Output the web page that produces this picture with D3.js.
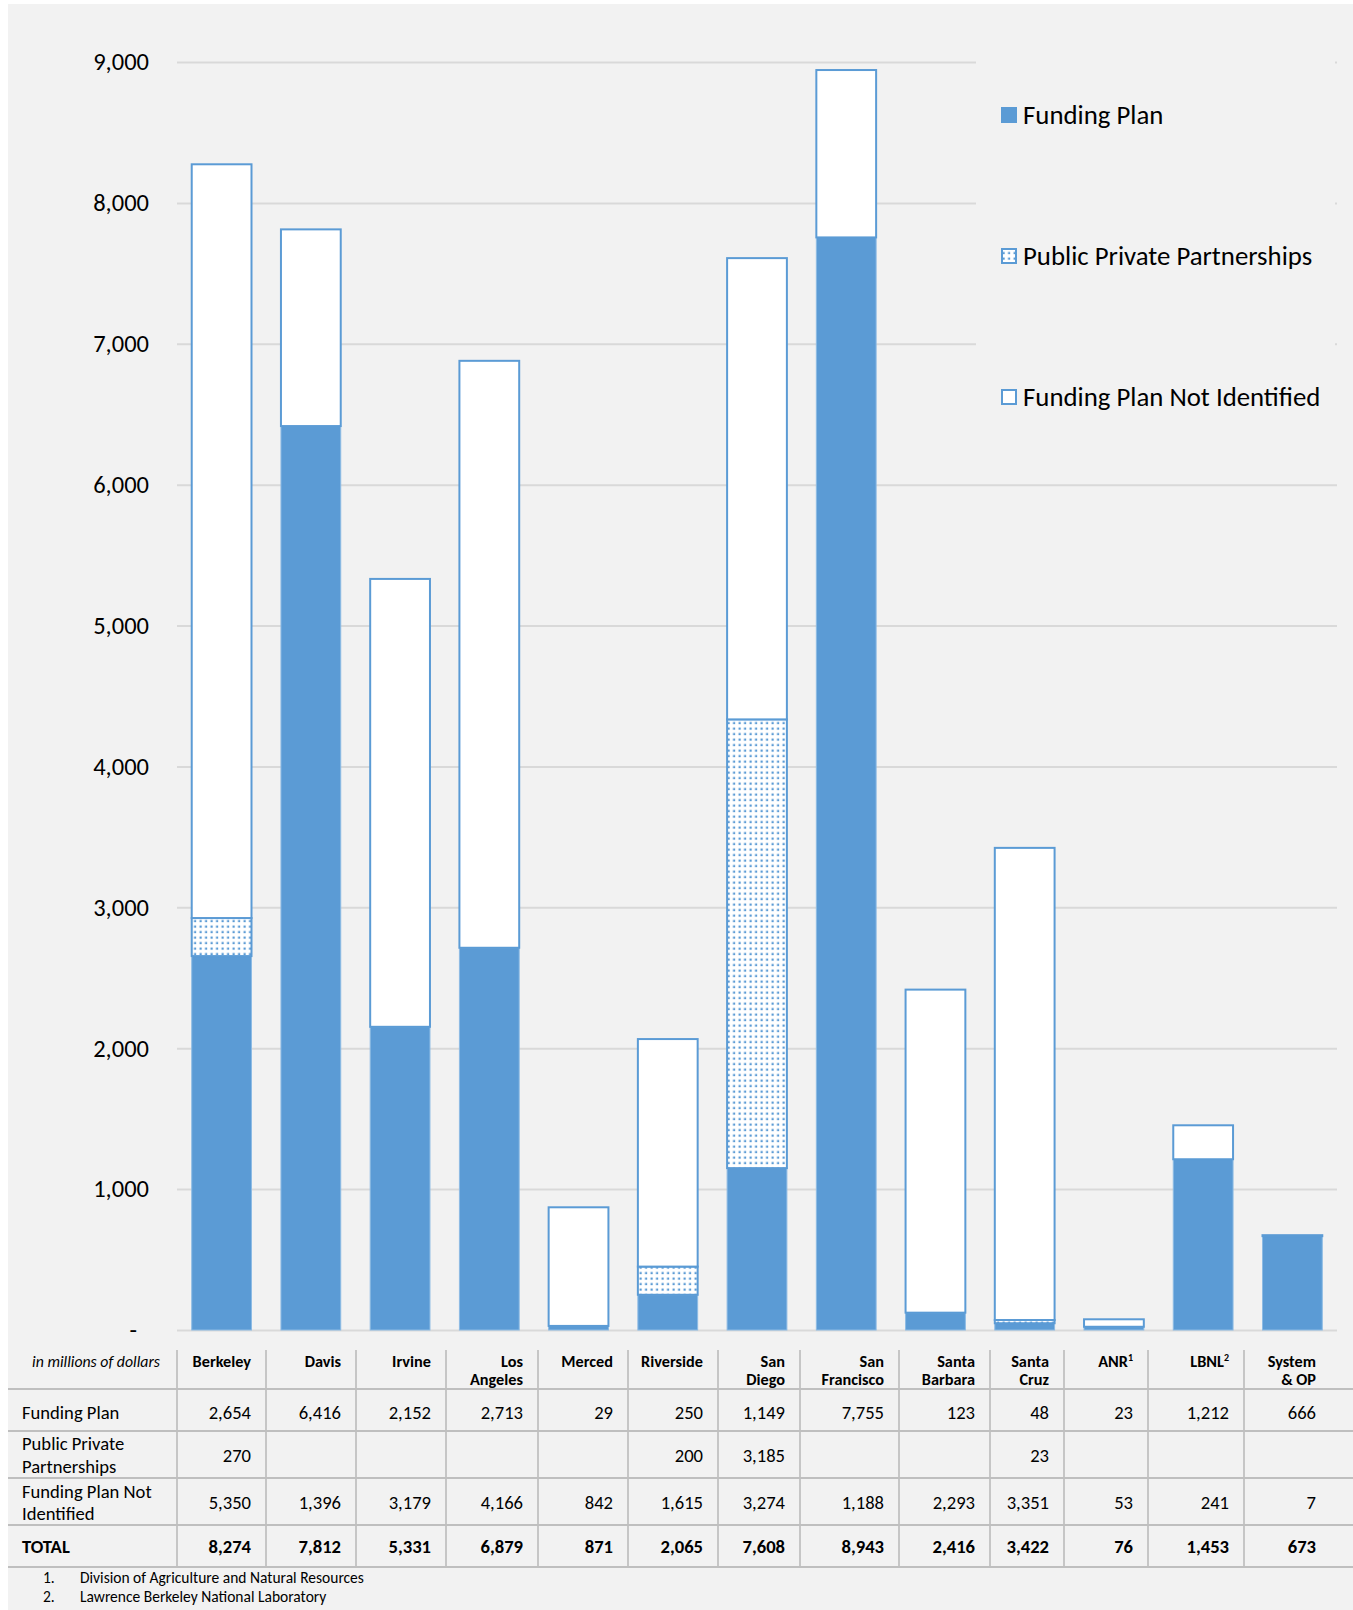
<!DOCTYPE html>
<html>
<head>
<meta charset="utf-8">
<script src="https://cdn.jsdelivr.net/npm/d3@7"></script>
<style>
  body { margin: 0; background: #fff; }
  text { font-family: Calibri, Carlito, Lato, sans-serif; fill: #000; }
</style>
</head>
<body>
<div id="figure"></div>
<script>
// values in millions of dollars
const categories = ['Berkeley', 'Davis', 'Irvine', 'Los Angeles', 'Merced', 'Riverside', 'San Diego',
  'San Francisco', 'Santa Barbara', 'Santa Cruz', 'ANR', 'LBNL', 'System & OP']
const fundingPlan = [2654, 6416, 2152, 2713, 29, 250, 1149, 7755, 123, 48, 23, 1212, 666]
const publicPrivate = [270, 0, 0, 0, 0, 200, 3185, 0, 0, 23, 0, 0, 0]
const notIdentified = [5350, 1396, 3179, 4166, 842, 1615, 3274, 1188, 2293, 3351, 53, 241, 7]
const totals = [8274, 7812, 5331, 6879, 871, 2065, 7608, 8943, 2416, 3422, 76, 1453, 673]
const yTicks = [0, 1000, 2000, 3000, 4000, 5000, 6000, 7000, 8000, 9000]

const seriesKeys = ['fp', 'ppp', 'fpni']
const seriesNames = ['Funding Plan', 'Public Private Partnerships', 'Funding Plan Not Identified']

// table header text, split in lines, plus footnote marks
const headerLines = [['Berkeley'], ['Davis'], ['Irvine'], ['Los', 'Angeles'], ['Merced'], ['Riverside'],
  ['San', 'Diego'], ['San', 'Francisco'], ['Santa', 'Barbara'], ['Santa', 'Cruz'], ['ANR'], ['LBNL'], ['System', '& OP']]
const headerSup = {'ANR': '1', 'LBNL': '2'}
const rowLabels = [['Funding Plan'], ['Public Private', 'Partnerships'], ['Funding Plan Not', 'Identified'], ['TOTAL']]
const footnotes = ['Division of Agriculture and Natural Resources', 'Lawrence Berkeley National Laboratory']

const W = 1353, H = 1610
const blue = '#5b9bd5'

const svg = d3.select('#figure')
  .append('svg')
  .attr('width', W)
  .attr('height', H)

const defs = svg.append('defs')
const pat = defs.append('pattern')
  .attr('id', 'dots')
  .attr('patternUnits', 'userSpaceOnUse')
  .attr('width', 5.5)
  .attr('height', 5.5)
pat.append('rect').attr('width', 5.5).attr('height', 5.5).attr('fill', '#fff')
pat.append('rect').attr('x', 1.5).attr('y', 1.5).attr('width', 2.2).attr('height', 2.2).attr('fill', blue)

svg.append('rect')
  .attr('x', 8).attr('y', 4)
  .attr('width', W - 8).attr('height', H - 4)
  .attr('fill', '#f2f2f2')

// ---- chart ----
const x = d3.scaleBand()
  .domain(categories)
  .range([177, 1337])
  .paddingInner(0.33)
  .paddingOuter(0.165)

const y = d3.scaleLinear()
  .domain([0, 9000])
  .range([1330, 62])

const fmt = d3.format(',')

const yAxis = svg.append('g')
  .attr('transform', 'translate(177,0)')
  .call(d3.axisLeft(y).tickValues(yTicks).tickSize(-1160).tickPadding(28)
    .tickFormat(d => d === 0 ? '-' : fmt(d)))
yAxis.select('.domain').remove()
yAxis.selectAll('line').attr('stroke', '#d9d9d9').attr('stroke-width', 2)
yAxis.selectAll('text')
  .attr('font-size', 24.5)
  .attr('font-family', 'Calibri, Carlito, Lato, sans-serif')
  .attr('fill', '#000')
  .attr('dx', d => d === 0 ? -12 : 0)

const table = categories.map((c, i) => ({
  cat: c, fp: fundingPlan[i], ppp: publicPrivate[i], fpni: notIdentified[i]
}))
const stacked = d3.stack().keys(seriesKeys)(table)

const fills = {fp: blue, ppp: 'url(#dots)', fpni: '#fff'}
const strokes = {fp: '#8dbbe4', ppp: blue, fpni: blue}
const strokeW = {fp: 1, ppp: 2, fpni: 2}

svg.append('g')
  .selectAll('g')
  .data(stacked)
  .enter()
  .append('g')
  .each(function(layer) {
    d3.select(this).selectAll('rect')
      .data(layer.filter(d => d[1] - d[0] > 0))
      .enter()
      .append('rect')
      .attr('x', d => x(d.data.cat))
      .attr('y', d => y(d[1]))
      .attr('width', x.bandwidth())
      .attr('height', d => y(d[0]) - y(d[1]))
      .attr('fill', fills[layer.key])
      .attr('stroke', strokes[layer.key])
      .attr('stroke-width', strokeW[layer.key])
  })

// legend
svg.append('rect')
  .attr('x', 976).attr('y', 45)
  .attr('width', 359).attr('height', 410)
  .attr('fill', '#f2f2f2')

const legendY = [115, 256, 397]
seriesKeys.forEach((k, i) => {
  const g = svg.append('g').attr('transform', `translate(1001, ${legendY[i]})`)
  g.append('rect')
    .attr('x', k === 'fp' ? 0 : 1).attr('y', k === 'fp' ? -8 : -7)
    .attr('width', k === 'fp' ? 16 : 14).attr('height', k === 'fp' ? 16 : 14)
    .attr('fill', fills[k])
    .attr('stroke', k === 'fp' ? 'none' : blue)
    .attr('stroke-width', 2)
  g.append('text')
    .attr('x', 22)
    .attr('dy', '0.35em')
    .attr('font-size', 26.8)
    .text(seriesNames[i])
})

// ---- table ----
const colEdges = [8, 177, 266, 356, 446, 538, 628, 718, 800, 899, 990, 1064, 1148, 1244, 1331]
const rowLines = [1389, 1431, 1478, 1525, 1567]
const rowCenters = [1412, 1455, 1502, 1546]
const rowLineCenters = [[1412], [1443, 1466], [1491, 1513], [1546]]

const tg = svg.append('g')
tg.selectAll('.vline')
  .data(colEdges.slice(1, -1))
  .enter()
  .append('line')
  .attr('x1', d => d).attr('x2', d => d)
  .attr('y1', 1350).attr('y2', 1567)
  .attr('stroke', '#c6c6c6').attr('stroke-width', 2)
tg.selectAll('.hline')
  .data(rowLines)
  .enter()
  .append('line')
  .attr('x1', 8).attr('x2', W)
  .attr('y1', d => d).attr('y2', d => d)
  .attr('stroke', '#bfbfbf').attr('stroke-width', 2)

tg.append('text')
  .attr('x', 160).attr('y', 1361).attr('dy', '0.35em')
  .attr('text-anchor', 'end')
  .attr('font-size', 15.8)
  .attr('font-style', 'italic')
  .text('in millions of dollars')

headerLines.forEach((lines, i) => {
  const t = tg.append('text')
    .attr('text-anchor', 'end')
    .attr('font-size', 16.3)
    .attr('font-weight', 'bold')
  lines.forEach((ln, j) => {
    t.append('tspan')
      .attr('x', colEdges[i + 2] - 15)
      .attr('y', 1361 + j * 18.5)
      .attr('dy', '0.35em')
      .text(ln)
    if (headerSup[ln]) {
      t.append('tspan')
        .attr('font-size', 10)
        .attr('dy', '-0.6em')
        .text(headerSup[ln])
    }
  })
})

rowLabels.forEach((lines, r) => {
  lines.forEach((ln, j) => {
    tg.append('text')
      .attr('x', 22)
      .attr('y', rowLineCenters[r][j])
      .attr('dy', '0.35em')
      .attr('font-size', 18.6)
      .attr('font-weight', r === 3 ? 'bold' : 'normal')
      .text(ln)
  })
})

const rowValues = [fundingPlan, publicPrivate, notIdentified, totals]
rowValues.forEach((vals, r) => {
  tg.append('g')
    .selectAll('text')
    .data(vals)
    .enter()
    .append('text')
    .attr('x', (d, i) => colEdges[i + 2] - 15)
    .attr('y', rowCenters[r])
    .attr('dy', '0.35em')
    .attr('text-anchor', 'end')
    .attr('font-size', 18.6)
    .attr('font-weight', r === 3 ? 'bold' : 'normal')
    .text(d => d ? fmt(d) : '')
})

footnotes.forEach((f, i) => {
  tg.append('text')
    .attr('x', 43).attr('y', 1578 + i * 19).attr('dy', '0.35em')
    .attr('font-size', 15.5)
    .text((i + 1) + '.')
  tg.append('text')
    .attr('x', 80).attr('y', 1578 + i * 19).attr('dy', '0.35em')
    .attr('font-size', 15.5)
    .text(f)
})
</script>
</body>
</html>
